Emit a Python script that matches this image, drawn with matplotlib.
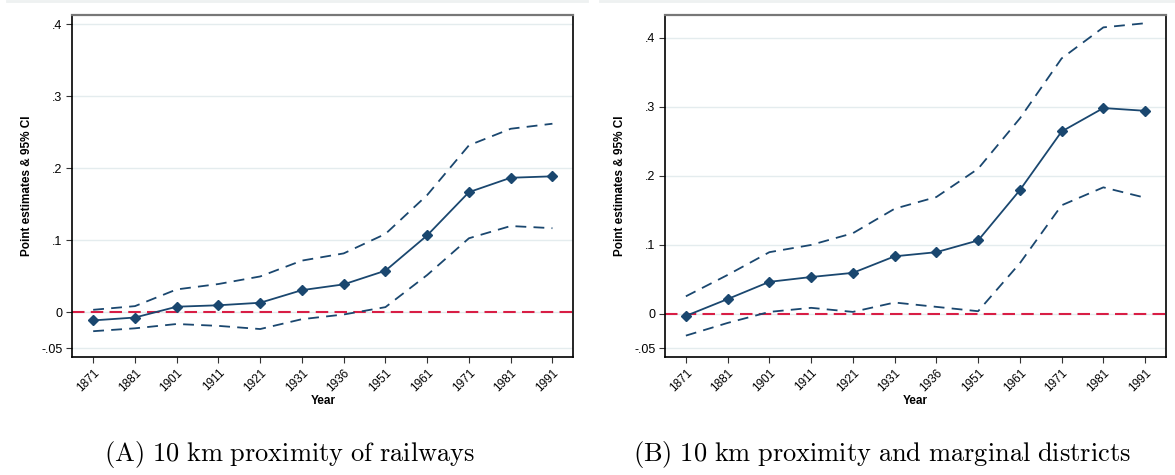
import numpy as np
import matplotlib
matplotlib.use("Agg")
import matplotlib.pyplot as plt
from matplotlib.lines import Line2D

plt.rcParams['font.family'] = ['Liberation Sans', 'DejaVu Sans']
plt.rcParams['mathtext.fontset'] = 'cm'

years = ["1871", "1881", "1901", "1911", "1921", "1931",
         "1936", "1951", "1961", "1971", "1981", "1991"]

# panel A: 10 km proximity of railways
est_a = [-0.011, -0.007, 0.008, 0.010, 0.0135, 0.031,
         0.039, 0.058, 0.107, 0.167, 0.187, 0.189]
hi_a = [0.0037, 0.0088, 0.032, 0.0395, 0.050, 0.072,
        0.082, 0.109, 0.163, 0.232, 0.255, 0.262]
lo_a = [-0.026, -0.022, -0.016, -0.0186, -0.023, -0.0093,
        -0.0028, 0.0074, 0.052, 0.103, 0.120, 0.117]

# panel B: 10 km proximity and marginal districts
est_b = [-0.0034, 0.021, 0.046, 0.053, 0.059, 0.083,
         0.089, 0.106, 0.179, 0.264, 0.298, 0.294]
hi_b = [0.025, 0.056, 0.089, 0.0995, 0.1165, 0.152,
        0.169, 0.210, 0.283, 0.370, 0.415, 0.421]
lo_b = [-0.032, -0.0136, 0.0024, 0.0083, 0.0024, 0.016,
        0.0097, 0.0034, 0.073, 0.157, 0.183, 0.168]

yticks = [-0.05, 0, 0.1, 0.2, 0.3, 0.4]
ytick_labels = ["-.05", "0", ".1", ".2", ".3", ".4"]

captions = [r"$\mathrm{(A)\ 10\ km\ proximity\ of\ railways}$",
            r"$\mathrm{(B)\ 10\ km\ proximity\ and\ marginal\ districts}$"]

navy = "#1a476f"
red = "#d81e45"
grid = "#e4ecee"

fig = plt.figure(figsize=(11.75, 4.75), dpi=100)
axA = fig.add_axes([72.3 / 1175, 1 - 357 / 475, 501 / 1175, 341.7 / 475])
axB = fig.add_axes([665 / 1175, 1 - 357 / 475, 501 / 1175, 341.7 / 475])

panels = [(axA, est_a, hi_a, lo_a, (-0.0618, 0.4125)),
          (axB, est_b, hi_b, lo_b, (-0.0630, 0.4325))]

x = np.arange(len(years))
for ax, est, hi, lo, ylim in panels:
    for yt in yticks:
        ax.axhline(yt, color=grid, lw=1.0, zorder=0)
    ax.plot(x, hi, color=navy, lw=1.3, dashes=(6, 4), zorder=2)
    ax.plot(x, lo, color=navy, lw=1.3, dashes=(6, 4), zorder=2)
    ax.plot(x, est, color=navy, lw=1.3, marker='D', markersize=5.5,
            zorder=3)
    ax.axhline(0, color=red, lw=1.5, dashes=(6, 3), zorder=1)
    ax.set_xlim(-0.5, 11.5)
    ax.set_ylim(*ylim)
    ax.set_xticks(x)
    ax.set_xticklabels(years, rotation=45, ha='right', rotation_mode='anchor',
                       fontsize=8.5)
    ax.set_yticks(yticks)
    ax.set_yticklabels(ytick_labels, fontsize=9)
    ax.tick_params(axis='both', direction='out', length=4, width=0.8,
                   color='#333333', pad=3)
    ax.set_xlabel("Year", fontsize=8.5, fontweight='bold', labelpad=1)
    ax.set_ylabel("Point estimates & 95% CI", fontsize=8.5,
                  fontweight='bold', labelpad=6)
    for side in ['left', 'bottom', 'right']:
        ax.spines[side].set_color('black')
        ax.spines[side].set_linewidth(1.2)
    ax.spines['top'].set_color('#777777')
    ax.spines['top'].set_linewidth(1.6)

fig.text(290 / 1175, 1 - 455 / 475, captions[0], ha='center', va='center',
         fontsize=19)
fig.text(882 / 1175, 1 - 455 / 475, captions[1], ha='center', va='center',
         fontsize=19)

# faint strips at the very top of each graph region
fig.add_artist(Line2D([7 / 1175, 587 / 1175], [0.998, 0.998],
                      color='#eef1f1', lw=2))
fig.add_artist(Line2D([600 / 1175, 1.0], [0.998, 0.998],
                      color='#eef1f1', lw=2))

fig.savefig("out.png", dpi=100)
